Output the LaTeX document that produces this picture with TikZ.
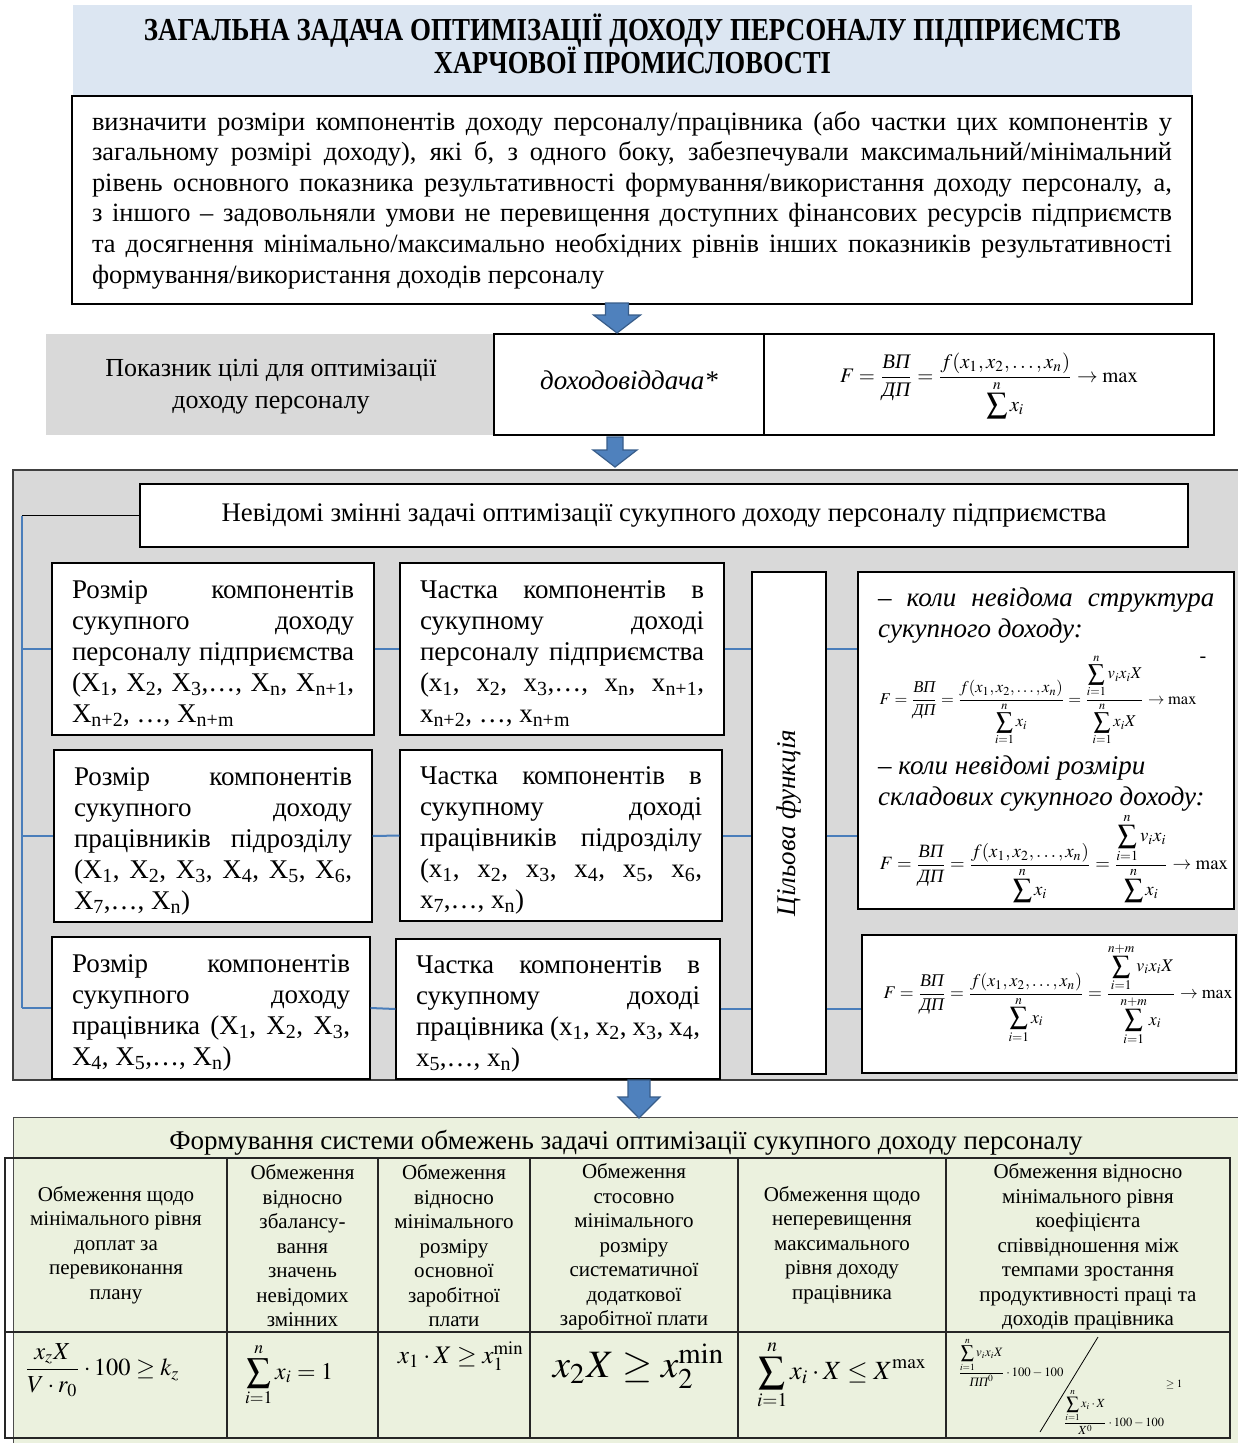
\documentclass[tikz,border=0pt]{standalone}
\usepackage{amsmath}
\usepackage{mathptmx}
\usepackage{fontspec}
\setmainfont{Liberation Serif}
\usepackage{graphicx}

\definecolor{titleblue}{HTML}{DCE6F2}
\definecolor{panelgray}{HTML}{D9D9D9}
\definecolor{panelgreen}{HTML}{EBF1DE}
\definecolor{linkblue}{HTML}{4A7EBB}
\definecolor{arrowfill}{HTML}{4F81BD}
\definecolor{arrowdraw}{HTML}{385D8A}

\newcommand{\bodysize}{\fontsize{27}{31}\selectfont}
\newcommand{\tasksize}{\fontsize{26.4}{30.6}\selectfont}
\newcommand{\cellsize}{\fontsize{21}{24.5}\selectfont}
\newcommand{\sbs}[1]{\textsubscript{#1}}
\newcommand{\cyr}[1]{\text{\itshape #1}}
\newcommand{\topstrut}{\rule{0pt}{28pt}}
% block arrow: x, top, head start, tip, shaft half width, head half width
\newcommand{\blockarrow}[6]{%
  \filldraw[fill=arrowfill, draw=arrowdraw, line width=1.2pt]
    (#1-#5,#2) -- (#1+#5,#2) -- (#1+#5,#3) -- (#1+#6,#3) -- (#1,#4)
    -- (#1-#6,#3) -- (#1-#5,#3) -- cycle;}

\begin{document}
\begin{tikzpicture}[x=1pt,y=-1pt,
  box/.style={draw=black, line width=1.3pt, fill=white, inner sep=0pt},
  varbox/.style={box, align=justify, font=\bodysize},
  link/.style={draw=linkblue, line width=2pt},
  headcell/.style={align=center, font=\cellsize, inner sep=0pt},
  formula/.style={inner sep=0pt}]
\useasboundingbox (0,0) rectangle (1238,1443);

% title
\fill[titleblue] (73,5) rectangle (1192,95);
\node[inner sep=0pt, align=center, font=\fontsize{32}{30}\selectfont\bfseries] (title) at (632.5,44)
  {\resizebox{977pt}{\height}{ЗАГАЛЬНА ЗАДАЧА ОПТИМІЗАЦІЇ ДОХОДУ ПЕРСОНАЛУ ПІДПРИЄМСТВ}\\[-2pt]
   \resizebox{397pt}{\height}{ХАРЧОВОЇ ПРОМИСЛОВОСТІ}};

% task statement
\node[box, align=justify, text width=1080pt, minimum width=1120, minimum height=208,
  font=\tasksize] (task) at (632,200)
  {визначити розміри компонентів доходу персоналу/працівника (або частки цих компонентів у\linebreak
   загальному розмірі доходу), які б, з одного боку, забезпечували максимальний/мінімальний\linebreak
   рівень основного показника результативності формування/використання доходу персоналу, а,\linebreak
   з іншого – задовольняли умови не перевищення доступних фінансових ресурсів підприємств\linebreak
   та досягнення мінімально/максимально необхідних рівнів інших показників результативності\linebreak
   формування/використання доходів персоналу};

% goal row
\fill[panelgray] (46,334) rectangle (493,435);
\node[inner sep=0pt, align=center, font=\fontsize{26}{32}\selectfont] (goal) at (271,387)
  {Показник цілі для оптимізації\\доходу персоналу};
\node[box, minimum width=270, minimum height=101, font=\fontsize{27}{31}\selectfont\itshape]
  (ratio) at (629,384.5) {\raisebox{9pt}{доходовіддача*}};
\node[box, minimum width=450, minimum height=101] (goalf) at (989,384.5) {};
\node[formula] (fm) at (989,386)
  {\resizebox{298pt}{!}{$F=\dfrac{\cyr{ВП}}{\cyr{ДП}}=\dfrac{f(x_1,x_2,\ldots,x_n)}{\displaystyle\sum^{n}x_i}\to\max$}};

% unknown variables panel
\draw[fill=panelgray, draw=black!75, line width=1.5pt] (13,470) rectangle (1250,1080);
\node[box, minimum width=1048, minimum height=63, font=\fontsize{26.8}{30}\selectfont]
  (hdr) at (664,515.5) {Невідомі змінні задачі оптимізації сукупного доходу персоналу підприємства};

\node[varbox, minimum width=322, minimum height=172, text width=282pt] (L1) at (213,649)
  {\topstrut Розмір~компонентів\linebreak сукупного~доходу\linebreak персоналу~підприємства\linebreak
   (X\sbs{1},~X\sbs{2},~X\sbs{3},…,~X\sbs{n},~X\sbs{n+1},\linebreak X\sbs{n+2},~…,~X\sbs{n+m}};
\node[varbox, minimum width=318, minimum height=172, text width=278pt] (L2) at (213,836)
  {\topstrut Розмір~компонентів\linebreak сукупного~доходу\linebreak працівників~підрозділу\linebreak
   (X\sbs{1},~X\sbs{2},~X\sbs{3},~X\sbs{4},~X\sbs{5},~X\sbs{6},\linebreak X\sbs{7},…,~X\sbs{n})};
\node[varbox, minimum width=318, minimum height=142, text width=278pt] (L3) at (211,1008)
  {\topstrut Розмір~компонентів\linebreak сукупного~доходу\linebreak працівника~(X\sbs{1},~X\sbs{2},~X\sbs{3},\linebreak
   X\sbs{4},~X\sbs{5},…,~X\sbs{n})};

\node[varbox, minimum width=324, minimum height=172, text width=284pt] (M1) at (562,649)
  {\topstrut Частка~компонентів~в\linebreak сукупному~доході\linebreak персоналу~підприємства\linebreak
   (x\sbs{1},~x\sbs{2},~x\sbs{3},…,~x\sbs{n},~x\sbs{n+1},\linebreak x\sbs{n+2},~…,~x\sbs{n+m}};
\node[varbox, minimum width=322, minimum height=171, text width=282pt] (M2) at (561,835.5)
  {\topstrut Частка~компонентів~в\linebreak сукупному~доході\linebreak працівників~підрозділу\linebreak
   (x\sbs{1},~x\sbs{2},~x\sbs{3},~x\sbs{4},~x\sbs{5},~x\sbs{6},\linebreak x\sbs{7},…,~x\sbs{n})};
\node[varbox, minimum width=324, minimum height=140, text width=284pt] (M3) at (558,1009)
  {\topstrut Частка~компонентів~в\linebreak сукупному~доході\linebreak працівника~(x\sbs{1},~x\sbs{2},~x\sbs{3},~x\sbs{4},\linebreak
   x\sbs{5},…,~x\sbs{n})};

\node[box, minimum width=74, minimum height=502] (F) at (789,823) {};
\node[rotate=90, font=\bodysize\itshape, inner sep=0pt] (Ftext) at (F.center) {Цільова функція};

% objective function variants
\node[box, minimum width=376, minimum height=337] (R1) at (1046,740.5) {};
\node[align=justify, text width=336pt, inner sep=0pt, font=\bodysize\itshape, anchor=north west]
  (R1a) at (878,588) {–~коли~невідома~структура\linebreak сукупного доходу:};
\node[font=\fontsize{20}{20}\selectfont, inner sep=0pt] (R1dash) at (1203,660) {-};
\node[formula] (R1f) at (1038,700)
  {\resizebox{317pt}{!}{$F=\dfrac{\cyr{ВП}}{\cyr{ДП}}=\dfrac{f(x_1,x_2,\ldots,x_n)}{\displaystyle\sum_{i=1}^{n}x_i}
   =\dfrac{\displaystyle\sum_{i=1}^{n}v_ix_iX}{\displaystyle\sum_{i=1}^{n}x_iX}\to\max$}};
\node[align=left, inner sep=0pt, font=\bodysize\itshape, anchor=north west]
  (R1b) at (878,756) {– коли невідомі розміри\\складових сукупного доходу:};
\node[formula] (R1g) at (1054,858)
  {\resizebox{348pt}{!}{$F=\dfrac{\cyr{ВП}}{\cyr{ДП}}=\dfrac{f(x_1,x_2,\ldots,x_n)}{\displaystyle\sum^{n}x_i}
   =\dfrac{\displaystyle\sum_{i=1}^{n}v_ix_i}{\displaystyle\sum^{n}x_i}\to\max$}};
\node[box, minimum width=374, minimum height=138] (R2) at (1049,1004) {};
\node[formula] (R2f) at (1058,994)
  {\resizebox{349pt}{!}{$F=\dfrac{\cyr{ВП}}{\cyr{ДП}}=\dfrac{f(x_1,x_2,\ldots,x_n)}{\displaystyle\sum_{i=1}^{n}x_i}
   =\dfrac{\displaystyle\sum_{i=1}^{n+m}v_ix_iX}{\displaystyle\sum_{i=1}^{n+m}x_i}\to\max$}};

% connectors
\coordinate (bus) at (22,517);
\draw[line width=1.8pt] (hdr.west) -- (hdr.west -| bus);
\draw[link] (hdr.west -| bus) -- (bus |- L3.west);
\draw[link] (bus |- L1.west) -- (L1.west);
\draw[link] (bus |- L2.west) -- (L2.west);
\draw[link] (bus |- L3.west) -- (L3.west);
\draw[link] (L1.east) -- (M1.west);
\draw[link] (L2.east) -- (M2.west);
\draw[link] (L3.east) -- (M3.west);
\draw[link] (M1.east) -- (M1.east -| F.west);
\draw[link] (M2.east) -- (M2.east -| F.west);
\draw[link] (M3.east) -- (M3.east -| F.west);
\draw[link] (F.east |- M1.east) -- (R1.west |- M1.east);
\draw[link] (F.east |- M2.east) -- (R1.west |- M2.east);
\draw[link] (F.east |- M3.east) -- (R2.west |- M3.east);

% constraints
\draw[fill=panelgreen, draw=black!70, line width=1pt] (13,1117) rectangle (1250,1460);
\node[font=\fontsize{27}{31}\selectfont, inner sep=0pt] (limits) at (626,1143)
  {Формування системи обмежень задачі оптимізації сукупного доходу персоналу};
\draw[line width=1.3pt, black!85] (5,1158) rectangle (1230,1438);
\draw[line width=1.3pt, black!85] (5,1332) -- (1230,1332);
\foreach \cx in {227,378,530,738,946}
  \draw[line width=1.3pt, black!85] (\cx,1158) -- (\cx,1438);

\node[headcell] (h1) at (116,1245) {Обмеження щодо\\мінімального рівня\\доплат за\\перевиконання\\плану};
\node[headcell] (h2) at (302.5,1246) {Обмеження\\відносно\\збалансу-\\вання\\значень\\невідомих\\змінних};
\node[headcell] (h3) at (454,1246) {Обмеження\\відносно\\мінімального\\розміру\\основної\\заробітної\\плати};
\node[headcell] (h4) at (634,1247) {Обмеження\\стосовно\\мінімального\\розміру\\систематичної\\додаткової\\заробітної плати};
\node[headcell] (h5) at (842,1245) {Обмеження щодо\\неперевищення\\максимального\\рівня доходу\\працівника};
\node[headcell] (h6) at (1088,1247) {Обмеження відносно\\мінімального рівня\\коефіцієнта\\співвідношення між\\темпами зростання\\продуктивності праці та\\доходів працівника};

\node[formula] (c1) at (102,1370) {\resizebox{155pt}{!}{$\dfrac{x_zX}{V\cdot r_0}\cdot100\ge k_z$}};
\node[formula] (c2) at (289,1375) {\resizebox{88pt}{!}{$\displaystyle\sum_{i=1}^{n}x_i=1$}};
\node[formula] (c3) at (461,1356) {\resizebox{126pt}{!}{$x_1\cdot X\ge x_1^{\min}$}};
\node[formula] (c4) at (639,1366) {\resizebox{172pt}{!}{$x_2X\ge x_2^{\min}$}};
\node[formula] (c5) at (842,1375) {\resizebox{170pt}{!}{$\displaystyle\sum_{i=1}^{n}x_i\cdot X\le X^{\max}$}};
\node[formula] (c6n) at (1011,1362) {\resizebox{105pt}{!}{$\dfrac{\displaystyle\sum_{i=1}^{n}v_ix_iX}{\cyr{ПП}^0}\cdot100-100$}};
\node[formula] (c6d) at (1114,1412) {\resizebox{100pt}{!}{$\dfrac{\displaystyle\sum_{i=1}^{n}x_i\cdot X}{X^0}\cdot100-100$}};
\node[formula, font=\fontsize{11}{11}\selectfont] (c6g) at (1174,1385) {$\ge1$};
\draw[line width=0.8pt] (1098,1337) -- (1040,1432);

% arrows
\blockarrow{617}{303}{315}{333}{11.5}{23.5}
\blockarrow{615}{437}{450}{467}{8}{22}
\blockarrow{639}{1080}{1097}{1118}{11}{21}
\end{tikzpicture}
\end{document}
